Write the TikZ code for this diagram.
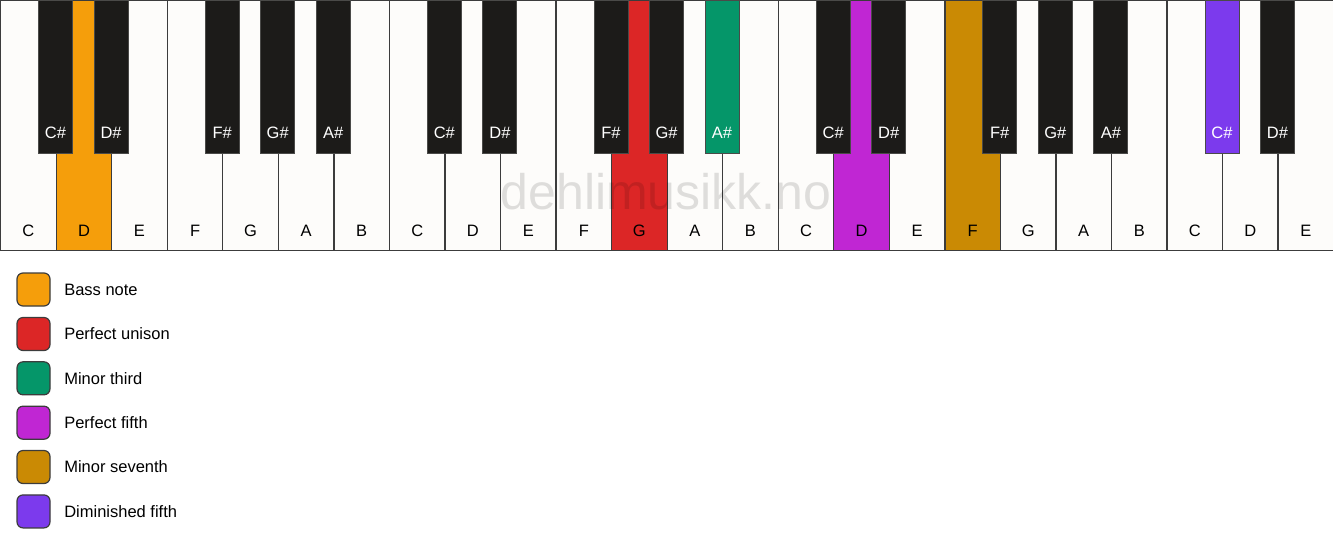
\documentclass[tikz,border=0pt]{standalone}
\usepackage{fontspec}
\setmainfont{Liberation Sans}
\usetikzlibrary{positioning}

\definecolor{ivory}{HTML}{FDFCFA}
\definecolor{keyblack}{HTML}{1C1B19}
\definecolor{keyline}{HTML}{3C3C3C}
\definecolor{bline}{HTML}{4A4A48}
\definecolor{bass}{HTML}{F59E0B}
\definecolor{unison}{HTML}{DC2626}
\definecolor{minthird}{HTML}{059669}
\definecolor{perffifth}{HTML}{C026D3}
\definecolor{minseventh}{HTML}{CA8A04}
\definecolor{dimfifth}{HTML}{7C3AED}

\tikzset{
  keylab/.style={font=\fontsize{16.5}{19}\selectfont, inner sep=0pt},
  wkey/.style={draw=keyline, line width=1.3pt, fill=ivory, anchor=north west,
    inner sep=0pt, minimum width=55.54pt, minimum height=250pt,
    label={[keylab, anchor=center, yshift=20pt]south:#1}},
  bkey/.style={draw=bline, line width=0.8pt, fill=keyblack, anchor=north,
    inner sep=0pt, minimum width=34pt, minimum height=153pt,
    label={[keylab, text=white, anchor=center, yshift=20.5pt]south:#1}},
  legbox/.style={draw=keyline, line width=1.2pt, rounded corners=6pt,
    minimum size=33pt, inner sep=0pt},
  legtext/.style={font=\fontsize{16.5}{19}\selectfont, inner sep=0pt, anchor=west}
}

\begin{document}
\begin{tikzpicture}[x=1pt, y=-1pt]
  \useasboundingbox (0,0) rectangle (1333,550);
  % white keys
  \draw
    (0,0) node[wkey=C] (w0){}
    (55.54,0) node[wkey=D, fill=bass] (w1){}
    (111.08,0) node[wkey=E] (w2){}
    (166.63,0) node[wkey=F] (w3){}
    (222.17,0) node[wkey=G] (w4){}
    (277.71,0) node[wkey=A] (w5){}
    (333.25,0) node[wkey=B] (w6){}
    (388.79,0) node[wkey=C] (w7){}
    (444.33,0) node[wkey=D] (w8){}
    (499.88,0) node[wkey=E] (w9){}
    (555.42,0) node[wkey=F] (w10){}
    (610.96,0) node[wkey=G, fill=unison] (w11){}
    (666.50,0) node[wkey=A] (w12){}
    (722.04,0) node[wkey=B] (w13){}
    (777.58,0) node[wkey=C] (w14){}
    (833.13,0) node[wkey=D, fill=perffifth] (w15){}
    (888.67,0) node[wkey=E] (w16){}
    (944.21,0) node[wkey=F, fill=minseventh] (w17){}
    (999.75,0) node[wkey=G] (w18){}
    (1055.29,0) node[wkey=A] (w19){}
    (1110.83,0) node[wkey=B] (w20){}
    (1166.38,0) node[wkey=C] (w21){}
    (1221.92,0) node[wkey=D] (w22){}
    (1277.46,0) node[wkey=E] (w23){};
  % black keys
  \draw
    (55.54,0) node[bkey=C\#] (b1){}
    (111.08,0) node[bkey=D\#] (b2){}
    (222.17,0) node[bkey=F\#] (b4){}
    (277.71,0) node[bkey=G\#] (b5){}
    (333.25,0) node[bkey=A\#] (b6){}
    (444.33,0) node[bkey=C\#] (b8){}
    (499.88,0) node[bkey=D\#] (b9){}
    (610.96,0) node[bkey=F\#] (b11){}
    (666.50,0) node[bkey=G\#] (b12){}
    (722.04,0) node[bkey=A\#, fill=minthird] (b13){}
    (833.13,0) node[bkey=C\#] (b15){}
    (888.67,0) node[bkey=D\#] (b16){}
    (999.75,0) node[bkey=F\#] (b18){}
    (1055.29,0) node[bkey=G\#] (b19){}
    (1110.83,0) node[bkey=A\#] (b20){}
    (1221.92,0) node[bkey=C\#, fill=dimfifth] (b22){}
    (1277.46,0) node[bkey=D\#] (b23){};
  % watermark
  \node[font=\fontsize{50}{52}\selectfont, text=black, text opacity=0.12]
    (mark) at (666,192) {dehlimusikk.no};
  % legend
  \node[legbox, fill=bass] (l1) at (33.5,289.5) {};
  \node[legbox, fill=unison] (l2) at (33.5,334) {};
  \node[legbox, fill=minthird] (l3) at (33.5,378.3) {};
  \node[legbox, fill=perffifth] (l4) at (33.5,422.7) {};
  \node[legbox, fill=minseventh] (l5) at (33.5,467) {};
  \node[legbox, fill=dimfifth] (l6) at (33.5,511.4) {};
  \node[legtext, right=13.5pt of l1] (t1) {Bass note};
  \node[legtext, right=13.5pt of l2] (t2) {Perfect unison};
  \node[legtext, right=13.5pt of l3] (t3) {Minor third};
  \node[legtext, right=13.5pt of l4] (t4) {Perfect fifth};
  \node[legtext, right=13.5pt of l5] (t5) {Minor seventh};
  \node[legtext, right=13.5pt of l6] (t6) {Diminished fifth};
\end{tikzpicture}
\end{document}
